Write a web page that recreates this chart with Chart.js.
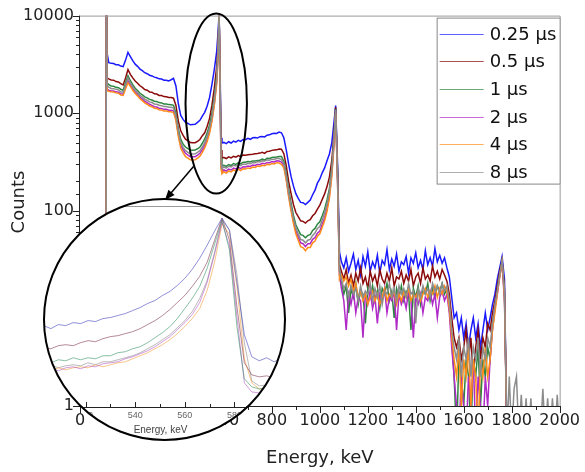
<!DOCTYPE html>
<html>
<head>
<meta charset="utf-8">
<script src="https://cdn.jsdelivr.net/npm/chart.js@4.4.0/dist/chart.umd.min.js"></script>
<style>
body { margin: 0; background: #fff; }
#wrap { position: relative; width: 585px; height: 472px; }
#main { position: absolute; left: 0; top: 0; }
#insetBox { position: absolute; left: 36px; top: 199px; width: 253px; height: 245px; background: #fff;
  clip-path: circle(120px at 128.5px 120.5px); }
#ring { position: absolute; left: 43px; top: 198px; width: 243px; height: 243px; border: 2px solid #000;
  border-radius: 50%; box-sizing: border-box; pointer-events: none; }
</style>
</head>
<body>
<div id="wrap">
  <canvas id="main" width="585" height="472"></canvas>
  <div id="insetBox"><canvas id="inset" width="253" height="245"></canvas></div>
  <div id="ring"></div>
</div>
<script>
// energy channels, keV
const energies = [
  108, 110, 113,
  120, 130, 140, 150, 160, 170, 180, 190, 200, 210,
  220, 230, 240, 250, 260, 270, 280, 290, 300, 310,
  320, 330, 340, 350, 360, 370, 380, 390, 400, 410,
  420, 430, 440, 450, 460, 470, 480, 490, 500, 510,
  520, 530, 540, 550, 560, 570,
  576, 580, 584, 588, 592,
  600, 610, 620, 630, 640, 650, 660, 670, 680, 690,
  700, 710, 720, 730, 740, 750, 760, 770, 780, 790,
  800, 810, 820, 830, 840, 850, 860, 870, 880, 890,
  900, 910, 920, 930, 940, 950, 960, 970, 980, 990,
  1000, 1010, 1020, 1030, 1040, 1050,
  1058, 1066, 1074, 1082,
  1090, 1100, 1110, 1120, 1130, 1140, 1150, 1160, 1170, 1180,
  1190, 1200, 1210, 1220, 1230, 1240, 1250, 1260, 1270, 1280,
  1290, 1300, 1310, 1320, 1330, 1340, 1350, 1360, 1370, 1380,
  1390, 1400, 1410, 1420, 1430, 1440, 1450, 1460, 1470, 1480,
  1490, 1500, 1510, 1520, 1530, 1540, 1550, 1560, 1570, 1580,
  1590, 1600, 1610, 1620, 1630, 1640, 1650, 1660, 1670, 1680,
  1690, 1700, 1710, 1720, 1730, 1740, 1750, 1760, 1770, 1780,
  1790, 1800, 1810, 1820, 1830, 1840, 1850, 1860, 1870, 1880, 1890,
  1900, 1910, 1920, 1930, 1940, 1950, 1960, 1970, 1980, 1990, 2000
];

const seriesLabels = ['0.25 \u03bcs', '0.5 \u03bcs', '1 \u03bcs', '2 \u03bcs', '4 \u03bcs', '8 \u03bcs'];

const counts025 = [
  0.5, 20000, 4100,
  3300, 3240, 3230, 3140, 3130, 3040, 3000, 3500, 4200, 3800,
  3450, 3180, 3020, 2830, 2730, 2600, 2540, 2450, 2410, 2340,
  2310, 2250, 2240, 2180, 2180, 2140, 2200, 2270, 1900, 1250,
  950, 865, 805, 785, 760, 765, 770, 805, 845, 935,
  1020, 1180, 1440, 1960, 2800, 4300,
  7000, 10500, 3000, 560, 495,
  502, 488, 510, 495, 518, 506, 528, 515, 538, 536,
  552, 540, 560, 562, 556, 575, 578, 572, 595, 600,
  615, 622, 620, 640, 630, 560, 420, 300, 225, 180,
  150, 134, 122, 121, 116, 122, 129, 146, 163, 192,
  212, 245, 275, 325, 382, 500,
  760, 1200, 300, 38,
  30, 26, 33, 24, 29, 36, 25, 31, 22, 34,
  27, 38, 24, 30, 26, 35, 23, 31, 28, 40,
  25, 32, 27, 36, 24, 30, 28, 34, 23, 33,
  29, 37, 26, 31, 25, 39, 28, 33, 27, 41,
  30, 35, 29, 33, 26, 21, 13, 8, 9, 6,
  8, 5, 7, 4, 6, 8, 5, 7, 4, 6,
  9, 6, 8, 11, 14, 20, 26, 34, 20, 0.5
];
const counts05 = [
  0.5, 20000, 2300,
  2250, 2190, 2180, 2110, 2090, 2010, 1950, 2300, 2800, 2500,
  2300, 2140, 2030, 1910, 1840, 1750, 1720, 1650, 1640, 1580,
  1570, 1520, 1515, 1480, 1475, 1450, 1445, 1425, 1200, 830,
  660, 592, 542, 520, 500, 497, 498, 515, 538, 588,
  630, 730, 880, 1200, 1800, 3000,
  5000, 10500, 2600, 420, 350,
  352, 343, 357, 348, 362, 354, 368, 359, 372, 371,
  375, 378, 380, 384, 386, 390, 398, 388, 406, 408,
  416, 420, 421, 430, 428, 385, 290, 200, 150, 116,
  96, 87, 79, 78, 75, 79, 81, 89, 94, 104,
  114, 131, 149, 177, 221, 330,
  560, 1150, 250, 28,
  24, 20, 25, 18, 22, 17, 23, 19, 26, 18,
  21, 16, 24, 19, 22, 17, 25, 20, 18, 23,
  19, 26, 17, 21, 20, 24, 18, 22, 19, 25,
  17, 21, 23, 18, 26, 20, 22, 19, 27, 21,
  24, 20, 25, 22, 19, 14, 8, 5, 4, 5,
  3, 4, 6, 3, 5, 2, 4, 6, 3, 5,
  4, 7, 6, 9, 12, 17, 24, 31, 16, 0.5
];
const counts1 = [
  0.5, 20000, 2050,
  1960, 1900, 1890, 1840, 1825, 1760, 1720, 2050, 2420, 2150,
  1960, 1800, 1710, 1600, 1545, 1470, 1435, 1385, 1365, 1325,
  1315, 1285, 1275, 1245, 1245, 1225, 1222, 1205, 1000, 690,
  540, 482, 450, 434, 420, 418, 419, 432, 450, 492,
  545, 625, 755, 990, 1460, 2450,
  4500, 10500, 2300, 350, 290,
  293, 285, 298, 291, 305, 298, 311, 302, 315, 314,
  320, 319, 323, 324, 327, 330, 338, 331, 345, 344,
  351, 353, 355, 360, 360, 322, 240, 165, 120, 90,
  72, 64, 57, 56, 53, 56, 57, 63, 66, 73,
  77, 89, 104, 129, 169, 280,
  500, 1100, 230, 25,
  19, 14, 17, 9, 16, 13, 18, 11, 15, 14,
  7, 16, 13, 17, 12, 15, 10, 16, 14, 18,
  12, 15, 8, 16, 13, 17, 12, 15, 14, 6,
  16, 13, 17, 11, 15, 14, 18, 12, 16, 13,
  17, 15, 18, 14, 16, 10, 5, 2, 0.5, 3,
  2, 1, 3, 2, 0.5, 3, 2, 4, 1, 3,
  2, 4, 3, 7, 10, 15, 22, 30, 14, 0.5
];
const counts2 = [
  0.5, 20000, 1750,
  1720, 1695, 1685, 1655, 1645, 1585, 1560, 1850, 2150, 1950,
  1780, 1645, 1555, 1455, 1395, 1325, 1285, 1235, 1205, 1165,
  1155, 1125, 1115, 1095, 1095, 1075, 1075, 1055, 880, 610,
  470, 422, 388, 372, 358, 357, 358, 372, 388, 422,
  470, 540, 650, 850, 1250, 2100,
  4000, 10500, 2000, 290, 250,
  263, 255, 268, 262, 274, 268, 280, 271, 283, 281,
  288, 285, 294, 291, 300, 297, 307, 303, 313, 310,
  319, 317, 326, 324, 315, 290, 215, 145, 105, 78,
  62, 54, 47, 46, 43, 46, 46, 51, 53, 59,
  62, 73, 85, 106, 144, 240,
  450, 1050, 200, 22,
  16, 12, 6, 14, 11, 15, 9, 13, 12, 5,
  14, 11, 15, 10, 13, 7, 14, 12, 16, 9,
  13, 12, 15, 6, 14, 11, 13, 10, 15, 12,
  5, 13, 11, 14, 9, 13, 12, 15, 11, 14,
  8, 13, 15, 12, 14, 9, 4, 2, 1, 0.5,
  2, 1, 0.5, 2, 1, 3, 0.5, 2, 1, 0.5,
  2, 1, 3, 6, 10, 14, 21, 29, 12, 0.5
];
const counts4 = [
  0.5, 20000, 1700,
  1680, 1655, 1645, 1615, 1605, 1535, 1520, 1780, 2050, 1880,
  1720, 1595, 1505, 1405, 1345, 1275, 1235, 1185, 1165, 1125,
  1115, 1085, 1075, 1055, 1055, 1035, 1035, 1015, 840, 580,
  440, 392, 358, 347, 333, 332, 333, 347, 363, 397,
  440, 510, 620, 820, 1200, 2000,
  3800, 10500, 2100, 270, 240,
  251, 243, 256, 250, 262, 256, 267, 258, 270, 268,
  275, 272, 281, 278, 287, 284, 293, 290, 299, 296,
  305, 302, 311, 309, 300, 275, 205, 140, 100, 74,
  58, 50, 43, 42, 39, 42, 42, 47, 49, 55,
  58, 68, 79, 99, 134, 225,
  430, 1000, 190, 20,
  22, 19, 21, 17, 20, 15, 18, 13, 15, 12,
  14, 11, 13, 15, 12, 14, 11, 13, 16, 12,
  14, 13, 15, 11, 14, 12, 15, 13, 16, 12,
  14, 13, 15, 12, 14, 16, 13, 15, 14, 17,
  13, 16, 14, 17, 15, 10, 5, 3, 2, 4,
  1, 3, 2, 4, 1, 3, 2, 0.5, 3, 2,
  4, 2, 3, 6, 9, 14, 21, 30, 13, 0.5
];
const counts8 = [
  0.5, 20000, 1900,
  1850, 1795, 1785, 1755, 1735, 1655, 1640, 1950, 2300, 2050,
  1870, 1725, 1625, 1525, 1465, 1395, 1355, 1305, 1285, 1245,
  1235, 1205, 1195, 1170, 1170, 1150, 1150, 1130, 940, 650,
  500, 447, 413, 397, 383, 382, 383, 397, 413, 452,
  500, 575, 700, 910, 1350, 2250,
  4300, 10500, 2300, 310, 270,
  281, 273, 286, 282, 293, 288, 299, 290, 302, 299,
  307, 304, 313, 310, 319, 316, 325, 323, 332, 329,
  338, 336, 345, 343, 334, 305, 228, 155, 112, 84,
  67, 58, 51, 50, 47, 50, 51, 56, 59, 66,
  69, 81, 95, 118, 157, 260,
  480, 1080, 215, 24,
  20, 16, 18, 13, 17, 14, 16, 12, 17, 13,
  15, 14, 18, 12, 16, 13, 17, 11, 15, 14,
  18, 13, 16, 12, 17, 14, 16, 13, 18, 14,
  15, 7, 16, 13, 17, 14, 16, 13, 18, 15,
  17, 14, 18, 15, 17, 12, 6, 4, 3, 5,
  2, 4, 3, 5, 2, 4, 3, 5, 2, 4,
  3, 5, 4, 7, 11, 15, 22, 31, 15, 0.5,
  2, 0.5, 1.5, 2, 0.5, 1.3, 0.5, 1.2, 0.5, 1.2, 0.5,
  0.5, 0.5, 0.5, 1.5, 0.5, 1.2, 0.5, 1.2, 0.5, 1.3, 0.5
];

const yTicks = [1, 10, 100, 1000, 10000];

// zoomed view of the 511 keV region (relative scale)
const insetEnergies = [500, 503, 506, 509, 512, 515, 518, 521, 524, 527, 530, 533, 536, 539, 542, 545, 548,
  551, 554, 557, 560, 563, 566, 569, 572, 575, 578, 581, 584, 587, 590, 593, 596, 599];
const inset025 = [39.5, 40.5, 39, 41, 40.5, 42, 41.5, 43, 42.5, 44, 44.5, 45.5, 46.5, 48, 49.5, 51.5, 53,
  55.5, 57.5, 60.5, 64, 68.5, 74, 80.5, 87.5, 94, 88, 62, 36, 25, 23, 24.5, 22.5, 24];
const inset05 = [28.5, 29.5, 29, 30.5, 31, 30.5, 32, 33, 32.5, 34, 35, 35.5, 36.5, 37.5, 39, 41, 43,
  45.5, 48.5, 52, 55.5, 60, 65, 72, 83, 94, 83, 50, 22, 16, 15, 15.5, 14.5, 15];
const inset1 = [22.5, 23.5, 22, 23.5, 23, 24.5, 23.5, 24.5, 24, 25.5, 25.5, 27, 27.5, 29, 30, 32, 34.5,
  37, 40, 44, 49, 54, 60, 69, 81, 93, 78, 40, 14, 10, 9, 9.5, 9, 8.5];
const inset2 = [19, 18, 19.5, 18, 19.5, 20, 19, 20.5, 20, 21.5, 22, 22.5, 24, 25, 26.5, 28, 30,
  32.5, 35, 38.5, 42, 46, 52, 62, 76, 92, 80, 45, 12, 7.5, 7, 8, 7.5, 7];
const inset4 = [18.5, 19.5, 18, 19.5, 18.5, 19.5, 20, 19.5, 21, 20, 21, 22, 22.5, 24, 25.5, 27, 29,
  31, 33.5, 36.5, 40, 44, 49, 58, 72, 91, 86, 60, 24, 12, 9, 9.5, 8.5, 9];
const inset8 = [20, 19.5, 21, 19.5, 20.5, 21, 20.5, 22, 21, 22.5, 22.5, 23.5, 24.5, 25.5, 27, 29, 31,
  33.5, 36, 39.5, 43, 47.5, 54, 63, 77, 93, 88, 66, 32, 13, 10.5, 11, 10, 10.5];

const mainColors = ['#1a1aff', '#8b0a0a', '#2e8540', '#b02ac8', '#ff8c1a', '#8c8c8c'];
const insetColors = ['rgba(70,70,190,0.6)', 'rgba(120,40,70,0.55)', 'rgba(40,140,90,0.55)',
  'rgba(170,60,190,0.5)', 'rgba(240,150,40,0.55)', 'rgba(130,130,130,0.55)'];

Chart.defaults.font.family = 'DejaVu Sans';

function points(xs, ys) {
  return ys.map((v, i) => ({ x: xs[i], y: v }));
}

const isPow10 = v => Math.abs(Math.log10(v) - Math.round(Math.log10(v))) < 1e-9;

const mainDecor = {
  id: 'mainDecor',
  afterDraw(chart) {
    const { ctx, chartArea: a, scales: { x, y } } = chart;
    ctx.save();
    ctx.lineWidth = 1;
    // grey frame top/right
    ctx.strokeStyle = '#9a9a9a';
    ctx.beginPath();
    ctx.moveTo(a.left, a.top + 0.5);
    ctx.lineTo(a.right + 0.5, a.top + 0.5);
    ctx.lineTo(a.right + 0.5, a.bottom);
    ctx.stroke();
    // axes
    ctx.strokeStyle = '#222';
    ctx.beginPath();
    ctx.moveTo(a.left - 0.5, a.top);
    ctx.lineTo(a.left - 0.5, a.bottom + 0.5);
    ctx.lineTo(a.right + 1, a.bottom + 0.5);
    y.ticks.forEach(t => {
      const py = Math.round(y.getPixelForValue(t.value)) + 0.5;
      const len = isPow10(t.value) ? 7 : 4;
      ctx.moveTo(a.left - len, py);
      ctx.lineTo(a.left, py);
    });
    x.ticks.forEach(t => {
      const px = Math.round(x.getPixelForValue(t.value)) + 0.5;
      const len = t.value % 200 === 0 ? 7 : 4;
      ctx.moveTo(px, a.bottom);
      ctx.lineTo(px, a.bottom + len);
    });
    ctx.stroke();

    // axis titles
    ctx.fillStyle = '#222';
    ctx.font = '18px "DejaVu Sans"';
    ctx.textAlign = 'center';
    ctx.textBaseline = 'alphabetic';
    ctx.fillText('Energy, keV', (a.left + a.right) / 2, 463);
    ctx.save();
    ctx.translate(24, 202);
    ctx.rotate(-Math.PI / 2);
    ctx.fillText('Counts', 0, 0);
    ctx.restore();

    // ellipse around the annihilation peak
    const cx = x.getPixelForValue(568);
    const rx = x.getPixelForValue(696) - cx;
    const yt = y.getPixelForValue(10500), yb = y.getPixelForValue(150);
    const cy = (yt + yb) / 2, ry = (yb - yt) / 2;
    ctx.strokeStyle = '#000';
    ctx.lineWidth = 2;
    ctx.beginPath();
    ctx.ellipse(cx, cy, rx, ry, 0, 0, Math.PI * 2);
    ctx.stroke();
    // arrow to the zoom circle
    const sx = cx - 0.74 * rx, sy = cy + 0.70 * ry;
    const ex = 165, ey = 200;
    const ang = Math.atan2(ey - sy, ex - sx);
    ctx.lineWidth = 1.5;
    ctx.beginPath();
    ctx.moveTo(sx, sy);
    ctx.lineTo(ex - 6 * Math.cos(ang), ey - 6 * Math.sin(ang));
    ctx.stroke();
    ctx.fillStyle = '#000';
    ctx.beginPath();
    ctx.moveTo(ex, ey);
    ctx.lineTo(ex - 10 * Math.cos(ang) + 4 * Math.sin(ang), ey - 10 * Math.sin(ang) - 4 * Math.cos(ang));
    ctx.lineTo(ex - 10 * Math.cos(ang) - 4 * Math.sin(ang), ey - 10 * Math.sin(ang) + 4 * Math.cos(ang));
    ctx.closePath();
    ctx.fill();

    // legend
    const lw = 124, lh = 167;
    const lx = a.right - 123, ly = a.top + 2;
    ctx.fillStyle = '#fff';
    ctx.fillRect(lx, ly, lw, lh);
    ctx.lineWidth = 1;
    ctx.strokeStyle = '#888';
    ctx.strokeRect(lx + 0.5, ly + 0.5, lw - 1, lh - 1);
    ctx.font = '18px "DejaVu Sans"';
    ctx.textAlign = 'left';
    ctx.textBaseline = 'middle';
    chart.data.datasets.forEach((d, i) => {
      const yy = Math.round(ly + 16 + i * 27.7) + 0.5;
      ctx.globalAlpha = 0.7;
      ctx.strokeStyle = d.borderColor;
      ctx.beginPath();
      ctx.moveTo(lx + 3, yy);
      ctx.lineTo(lx + 47, yy);
      ctx.stroke();
      ctx.globalAlpha = 1;
      ctx.fillStyle = '#111';
      ctx.fillText(d.label, lx + 53, yy + 1);
    });
    ctx.restore();
  }
};

new Chart(document.getElementById('main'), {
  type: 'line',
  data: {
    datasets: [counts025, counts05, counts1, counts2, counts4, counts8].map((vals, i) => ({
      label: seriesLabels[i],
      data: points(energies, vals),
      borderColor: mainColors[i],
      borderWidth: 1.5,
      pointRadius: 0,
      order: 6 - i
    }))
  },
  options: {
    responsive: false,
    animation: false,
    devicePixelRatio: 1,
    layout: { padding: { top: 15, right: 20, left: 0, bottom: 0 } },
    plugins: { legend: { display: false }, tooltip: { enabled: false } },
    scales: {
      x: {
        type: 'linear', min: 0, max: 2000,
        grid: { display: false, drawTicks: false },
        border: { display: false },
        ticks: {
          stepSize: 100, autoSkip: false, maxRotation: 0, padding: 5,
          color: '#222', font: { size: 16 },
          callback: v => (v % 200 === 0 ? String(v) : '')
        },
        afterFit: s => { s.height = 66; }
      },
      y: {
        type: 'logarithmic', min: yTicks[0], max: yTicks[yTicks.length - 1],
        grid: { display: false, drawTicks: false },
        border: { display: false },
        ticks: {
          autoSkip: false, padding: 6, color: '#222', font: { size: 16 },
          callback: v => (yTicks.includes(v) ? String(v) : '')
        },
        afterFit: s => { s.width = 80; }
      }
    }
  },
  plugins: [mainDecor]
});

const insetDecor = {
  id: 'insetDecor',
  afterDraw(chart) {
    const { ctx, chartArea: a, scales: { x } } = chart;
    ctx.save();
    ctx.lineWidth = 1;
    ctx.strokeStyle = '#9a9a9a';
    ctx.beginPath();
    ctx.moveTo(a.left, a.top + 0.5);
    ctx.lineTo(a.right, a.top + 0.5);
    ctx.stroke();
    ctx.strokeStyle = '#222';
    ctx.beginPath();
    ctx.moveTo(a.left, a.bottom + 0.5);
    ctx.lineTo(a.right, a.bottom + 0.5);
    x.ticks.forEach(t => {
      if (t.value % 10 !== 0) return;
      const px = Math.round(x.getPixelForValue(t.value)) + 0.5;
      const len = t.value % 20 === 0 ? 5 : 3;
      ctx.moveTo(px, a.bottom);
      ctx.lineTo(px, a.bottom - len);
    });
    ctx.stroke();
    ctx.fillStyle = '#666';
    ctx.font = '9px "Liberation Sans"';
    ctx.textAlign = 'center';
    ctx.textBaseline = 'middle';
    x.ticks.forEach(t => {
      if (t.value % 20 !== 0) return;
      ctx.fillText(String(t.value), x.getPixelForValue(t.value), a.bottom + 9);
    });
    ctx.fillStyle = '#444';
    ctx.font = '10px "Liberation Sans"';
    ctx.fillText('Energy, keV', (a.left + a.right) / 2 - 2, a.bottom + 23);
    ctx.restore();
  }
};

new Chart(document.getElementById('inset'), {
  type: 'line',
  data: {
    datasets: [inset025, inset05, inset1, inset2, inset4, inset8].map((vals, i) => ({
      label: seriesLabels[i],
      data: points(insetEnergies, vals),
      borderColor: insetColors[i],
      borderWidth: 1,
      pointRadius: 0
    }))
  },
  options: {
    responsive: false,
    animation: false,
    devicePixelRatio: 1,
    layout: { padding: { top: 7, right: 0, left: 0, bottom: 0 } },
    plugins: { legend: { display: false }, tooltip: { enabled: false } },
    scales: {
      x: {
        type: 'linear', min: 500, max: 602,
        grid: { display: false, drawTicks: false },
        border: { display: false },
        ticks: { display: false, stepSize: 10 },
        afterFit: s => { s.height = 37; }
      },
      y: { type: 'linear', min: 0, max: 100, display: false }
    }
  },
  plugins: [insetDecor]
});
</script>
</body>
</html>
